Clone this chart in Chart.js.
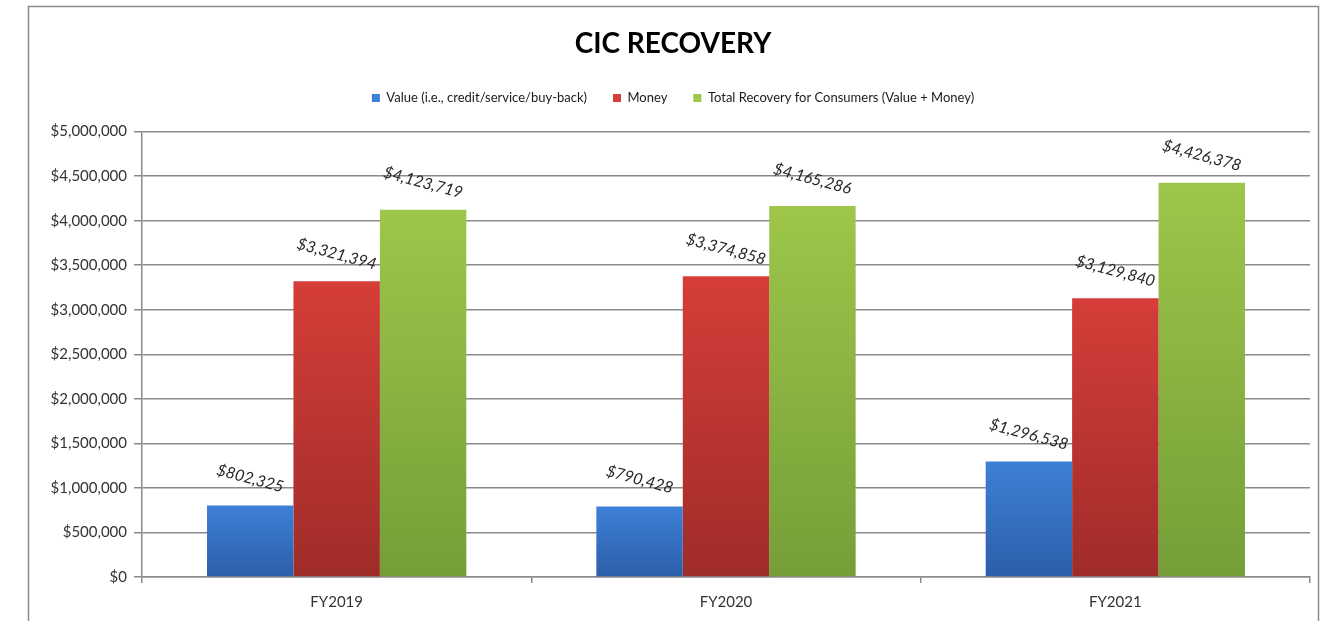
<!DOCTYPE html>
<html>
<head>
<meta charset="utf-8">
<script src="https://cdn.jsdelivr.net/npm/chart.js@4.4.1/dist/chart.umd.min.js"></script>
<style>
  html, body { margin: 0; padding: 0; background: #ffffff; }
  #wrap { position: relative; width: 1333px; height: 621px; }
  canvas { display: block; }
</style>
</head>
<body>
<div id="wrap"><canvas id="c" width="1333" height="621"></canvas></div>
<script>
const categories = ['FY2019', 'FY2020', 'FY2021'];
const seriesNames = ['Value (i.e., credit/service/buy-back)', 'Money', 'Total Recovery for Consumers (Value + Money)'];
const valueSeries = [802325, 790428, 1296538];
const moneySeries = [3321394, 3374858, 3129840];
const totalSeries = [4123719, 4165286, 4426378];
const yTicks = [0, 500000, 1000000, 1500000, 2000000, 2500000, 3000000, 3500000, 4000000, 4500000, 5000000];

const FONT = 'Lato, "Open Sans", sans-serif';

function money(v) { return '$' + Number(v).toLocaleString('en-US'); }

function grad(top, bottom, solid) {
  return function (ctx) {
    const c = ctx.chart;
    if (ctx.type !== 'data' || !c.chartArea || !c.scales.y) return solid;
    const ys = c.scales.y;
    const yt = ys.getPixelForValue(ctx.raw);
    const yb = ys.getPixelForValue(0);
    if (!isFinite(yt) || !isFinite(yb) || yt === yb) return solid;
    const g = c.ctx.createLinearGradient(0, yt, 0, yb);
    g.addColorStop(0, top);
    g.addColorStop(1, bottom);
    return g;
  };
}

const framePlugin = {
  id: 'frame',
  beforeDraw(chart) {
    const ctx = chart.ctx;
    ctx.save();
    ctx.fillStyle = '#ffffff';
    ctx.fillRect(0, 0, chart.width, chart.height);
    ctx.strokeStyle = '#8a8a8a';
    ctx.lineWidth = 1.5;
    ctx.strokeRect(28.5, 6.5, 1290, 700);
    ctx.restore();
  }
};

// empty layout box that keeps a gap between the legend and the plot
const spacerPlugin = {
  id: 'spacer',
  beforeInit(chart) {
    const box = {
      position: 'top', weight: 10, fullSize: true, options: {},
      left: 0, top: 0, right: 0, bottom: 0, width: 0, height: 0,
      isHorizontal() { return true; },
      update(maxWidth) { this.width = maxWidth; this.height = 17; return { width: this.width, height: this.height }; },
      draw() {}
    };
    Chart.layouts.addBox(chart, box);
  }
};

const labelPlugin = {
  id: 'barLabels',
  afterDatasetsDraw(chart) {
    const ctx = chart.ctx;
    ctx.save();
    ctx.font = 'italic 16px ' + FONT;
    ctx.fillStyle = '#262626';
    ctx.textAlign = 'center';
    ctx.textBaseline = 'middle';
    chart.data.datasets.forEach((ds, di) => {
      const meta = chart.getDatasetMeta(di);
      meta.data.forEach((el, i) => {
        ctx.save();
        ctx.translate(el.x, el.y - 27);
        ctx.rotate(15 * Math.PI / 180);
        ctx.fillText(money(ds.data[i]), 0, 0);
        ctx.restore();
      });
    });
    ctx.restore();
  }
};

new Chart(document.getElementById('c'), {
  type: 'bar',
  data: {
    labels: categories,
    datasets: [
      { label: seriesNames[0], data: valueSeries, backgroundColor: grad('#3d80d6', '#2c5ea9', '#3a74c4') },
      { label: seriesNames[1], data: moneySeries, backgroundColor: grad('#d53d38', '#9f2c29', '#c8322f') },
      { label: seriesNames[2], data: totalSeries, backgroundColor: grad('#9dc64a', '#759e38', '#8cb844') }
    ]
  },
  options: {
    responsive: false,
    animation: false,
    devicePixelRatio: 1,
    layout: { padding: { left: 36, right: 23, top: 0, bottom: 0 } },
    datasets: { bar: { categoryPercentage: 0.666, barPercentage: 1.0 } },
    plugins: {
      title: {
        display: true,
        text: 'CIC RECOVERY',
        color: '#000000',
        font: { family: FONT, size: 28, weight: 'bold' },
        padding: { top: 27, bottom: 5 }
      },
      legend: {
        display: true,
        position: 'top',
        labels: {
          color: '#1a1a1a',
          font: { family: FONT, size: 13 },
          boxWidth: 8,
          boxHeight: 8,
          padding: 26
        }
      },
      tooltip: { enabled: false }
    },
    scales: {
      x: {
        afterFit(s) { s.height = 44; },
        grid: { display: true, drawOnChartArea: false, offset: true, tickLength: 6, color: '#8a8a8a', lineWidth: 1.5 },
        border: { display: true, color: '#8a8a8a', width: 1.5 },
        ticks: { color: '#333333', font: { family: FONT, size: 15 }, padding: 10 }
      },
      y: {
        min: 0,
        max: 5000000,
        afterFit(s) { s.width = 106; },
        afterBuildTicks(s) { s.ticks = yTicks.map(v => ({ value: v })); },
        grid: { color: '#8a8a8a', lineWidth: 1.5, tickLength: 8 },
        border: { display: true, color: '#8a8a8a', width: 1.5 },
        ticks: { color: '#333333', font: { family: FONT, size: 15 }, padding: 7, callback: v => money(v) }
      }
    }
  },
  plugins: [framePlugin, spacerPlugin, labelPlugin]
});
</script>
</body>
</html>
